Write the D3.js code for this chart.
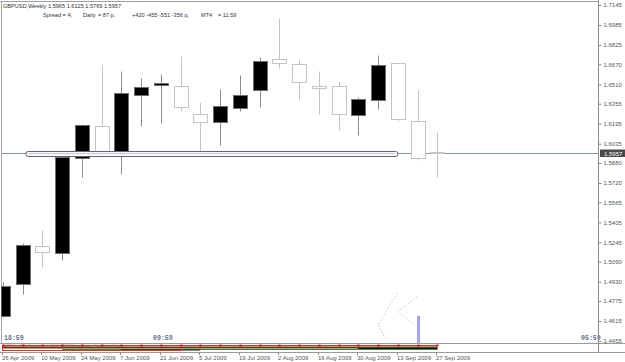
<!DOCTYPE html>
<html>
<head>
<meta charset="utf-8">
<script src="https://cdnjs.cloudflare.com/ajax/libs/d3/7.8.5/d3.min.js"></script>
<style>
  body { margin: 0; background: #fff; }
  svg { display: block; font-family: "Liberation Sans", Arial, sans-serif; }
</style>
</head>
<body>
<svg id="my_chart" width="625" height="362"></svg>
<script>
// GBPUSD weekly bars
var weeks = ["26 Apr 2009", "3 May 2009", "10 May 2009", "17 May 2009", "24 May 2009", "31 May 2009",
  "7 Jun 2009", "14 Jun 2009", "21 Jun 2009", "28 Jun 2009", "5 Jul 2009", "12 Jul 2009",
  "19 Jul 2009", "26 Jul 2009", "2 Aug 2009", "9 Aug 2009", "16 Aug 2009", "23 Aug 2009",
  "30 Aug 2009", "6 Sep 2009", "13 Sep 2009", "20 Sep 2009", "27 Sep 2009"];
var open  = [1.4657, 1.4913, 1.5217, 1.5161, 1.5921, 1.6177, 1.5953, 1.6425, 1.6505, 1.6497, 1.6273, 1.6209,
             1.6321, 1.6465, 1.6713, 1.6673, 1.6497, 1.6497, 1.6265, 1.6385, 1.6681, 1.6217, 1.5965];
var high  = [1.4929, 1.5241, 1.5345, 1.5937, 1.6193, 1.6665, 1.6617, 1.6561, 1.6593, 1.6737, 1.6369, 1.6473,
             1.6585, 1.6729, 1.7041, 1.6713, 1.6617, 1.6537, 1.6409, 1.6745, 1.6681, 1.6465, 1.6125];
var low   = [1.4650, 1.4833, 1.5049, 1.5105, 1.5769, 1.5929, 1.5793, 1.6177, 1.6201, 1.6297, 1.5977, 1.6025,
             1.6297, 1.6329, 1.6641, 1.6385, 1.6273, 1.6145, 1.6105, 1.6313, 1.6217, 1.5905, 1.5769];
var close = [1.4897, 1.5225, 1.5169, 1.5929, 1.6185, 1.5977, 1.6441, 1.6489, 1.6521, 1.6329, 1.6209, 1.6337,
             1.6425, 1.6697, 1.6681, 1.6529, 1.6481, 1.6273, 1.6393, 1.6665, 1.6233, 1.5921, 1.5957];

var priceTicks = [1.7145, 1.6985, 1.6825, 1.6670, 1.6510, 1.6355, 1.6195, 1.6035, 1.5880,
                  1.5720, 1.5565, 1.5405, 1.5245, 1.5090, 1.4930, 1.4775, 1.4615, 1.4455];
var bid = 1.5957;

// horizontal object (double line) : [from bar, to bar], [upper, lower] price
var channelBars = [1.18, 20];
var channelPrices = [1.5975, 1.5940];

// dotted zigzags near the bottom right : [bar, price]
var zigA = [[20, 1.4841], [19, 1.4585], [19.45, 1.4452]];
var zigB = [[21, 1.4809], [20, 1.4689], [20.85, 1.4585]];
// blue histogram bar
var blueBar = [21, 1.4657];

var sessions = [["18:59", 4], ["09:59", 153], ["05:59", 581]];

var svg = d3.select("#my_chart"),
  width = +svg.attr("width"),
  height = +svg.attr("height");

var right = 598.5, bottom = 343.5;

var x = d3.scaleLinear().domain([0, 22]).range([2.75, 437.25]);
var y = d3.scaleLinear().domain([1.4455, 1.7145]).range([341, 5]);
function cx(i) { return Math.round(x(i)) + 0.5; }
function py(p) { return Math.round(y(p)) + 0.5; }

svg.append("rect").attr("width", width).attr("height", height).attr("fill", "#fff");

svg.append("defs").append("clipPath").attr("id", "plot")
  .append("rect").attr("x", 1.5).attr("y", 1.5).attr("width", right - 1.5).attr("height", bottom - 1.5);

// frame
svg.append("line").attr("x1", 0).attr("x2", right).attr("y1", 1.5).attr("y2", 1.5).attr("stroke", "#a0a0a0");
svg.append("line").attr("x1", 1.5).attr("x2", 1.5).attr("y1", 1.5).attr("y2", bottom).attr("stroke", "#a8a8a8");

// header text
svg.append("text").attr("x", 3).attr("y", 8).attr("font-size", 5.6).attr("fill", "#333")
  .text("GBPUSD,Weekly  1.5965 1.6125 1.5769 1.5957");
var info = [["Spread = 4,", 43], ["Daily", 83], ["= 87 p,", 98], ["+420 -455 -551 -356 p,", 132], ["MT4", 201], ["= 11:59", 218]];
svg.append("g").selectAll("text").data(info).enter().append("text")
  .attr("x", function(d) { return d[1]; }).attr("y", 17)
  .attr("font-size", 5.6).attr("fill", "#333")
  .text(function(d) { return d[0]; });

var plot = svg.append("g").attr("clip-path", "url(#plot)");

// bid line
plot.append("line").attr("x1", 0).attr("x2", right).attr("y1", py(bid)).attr("y2", py(bid))
  .attr("stroke", "#8493ad");

// candles
var bars = d3.range(weeks.length);
plot.append("g").selectAll("line").data(bars).enter().append("line")
  .attr("x1", cx).attr("x2", cx)
  .attr("y1", function(i) { return py(high[i]); })
  .attr("y2", function(i) { return py(low[i]); })
  .attr("stroke", function(i) { return close[i] >= open[i] ? "#8c8c8c" : "#c4c4c4"; });

plot.append("g").selectAll("rect").data(bars).enter().append("rect")
  .attr("x", function(i) { return cx(i) - 7; })
  .attr("width", 14)
  .attr("y", function(i) { return py(Math.max(open[i], close[i])); })
  .attr("height", function(i) { return Math.max(0, py(Math.min(open[i], close[i])) - py(Math.max(open[i], close[i]))); })
  .attr("fill", function(i) { return close[i] >= open[i] ? "#000" : "#fff"; })
  .attr("stroke", function(i) { return close[i] >= open[i] ? "#6e6e6e" : "#c4c4c4"; });

// horizontal object
var chY1 = py(channelPrices[0]), chY2 = py(channelPrices[1]);
plot.append("rect")
  .attr("x", x(channelBars[0])).attr("width", x(channelBars[1]) - x(channelBars[0]))
  .attr("y", chY1).attr("height", chY2 - chY1)
  .attr("rx", 2)
  .attr("fill", "#f7f8fb").attr("stroke", "#666").attr("stroke-width", 1);
plot.append("line").attr("x1", x(channelBars[0]) + 3).attr("x2", x(channelBars[1]) - 3)
  .attr("y1", py(bid)).attr("y2", py(bid)).attr("stroke", "#c3cbdb");

// dotted zigzags
var zline = d3.line().x(function(d) { return x(d[0]); }).y(function(d) { return y(d[1]); });
plot.selectAll(".zig").data([zigA, zigB]).enter().append("path")
  .attr("class", "zig").attr("d", zline)
  .attr("fill", "none").attr("stroke", "#c8c8c8").attr("stroke-width", 1).attr("stroke-dasharray", "1.5,2");

// blue bar
plot.append("rect").attr("x", cx(blueBar[0]) - 1.5).attr("width", 3)
  .attr("y", y(blueBar[1])).attr("height", bottom - y(blueBar[1]))
  .attr("fill", "#a3a3fb");

// session times
svg.append("g").selectAll("text").data(sessions).enter().append("text")
  .attr("x", function(d) { return d[1]; }).attr("y", 339.5)
  .attr("font-family", "'Liberation Mono', monospace").attr("font-weight", "bold")
  .attr("font-size", 6.6).attr("fill", "#5d6f8c")
  .text(function(d) { return d[0]; });

// indicator strip under the chart
var strip = svg.append("g");
strip.append("line").attr("x1", 0).attr("x2", 625).attr("y1", bottom).attr("y2", bottom).attr("stroke", "#9a9a9a");
strip.append("line").attr("x1", 0).attr("x2", 625).attr("y1", 352.5).attr("y2", 352.5).attr("stroke", "#9a9a9a");
strip.append("text").attr("x", 3).attr("y", 347).attr("font-size", 4.2).attr("fill", "#999")
  .text("GBPC... Mini Tracker (c) 2001-2008 MetaQuotes Software Corp.");
strip.append("line").attr("x1", x(0)).attr("x2", cx(22)).attr("y1", 347.5).attr("y2", 347.5)
  .attr("stroke", "#6b3410").attr("stroke-width", 2);
strip.append("line").attr("x1", x(3)).attr("x2", cx(22)).attr("y1", 349.5).attr("y2", 349.5)
  .attr("stroke", "#2e8b2e").attr("stroke-width", 1.2);
strip.append("line").attr("x1", x(6)).attr("x2", x(10)).attr("y1", 350).attr("y2", 350)
  .attr("stroke", "#111");
strip.append("line").attr("x1", x(18)).attr("x2", cx(22)).attr("y1", 348.5).attr("y2", 348.5)
  .attr("stroke", "#111");
strip.append("rect").attr("x", 2.5).attr("y", 345.5).attr("width", x(9) - 2.5).attr("height", 5)
  .attr("fill", "none").attr("stroke", "#e03020");
strip.append("line").attr("x1", x(0)).attr("x2", cx(22)).attr("y1", 345.5).attr("y2", 345.5)
  .attr("stroke", "#e03020");
strip.append("g").selectAll("rect").data(bars).enter().append("rect")
  .attr("x", function(i) { return cx(i) - 1; }).attr("y", 344.5).attr("width", 2).attr("height", 2)
  .attr("fill", "#e00000");

// price axis
var yAxis = d3.axisRight(y).tickValues(priceTicks).tickSize(3).tickPadding(2)
  .tickFormat(d3.format(".4f"));
var ax = svg.append("g").attr("transform", "translate(" + right + ",0)").call(yAxis);
ax.select(".domain").attr("d", "M0,0V352").attr("stroke", "#8a8a8a");
ax.selectAll(".tick line").attr("stroke", "#8a8a8a");
ax.selectAll(".tick text").attr("font-size", 6).attr("fill", "#555").attr("font-family", "'Liberation Sans', Arial, sans-serif");

// bid label
svg.append("rect").attr("x", 600).attr("y", py(bid) - 4).attr("width", 25).attr("height", 7.5).attr("fill", "#4a4a4a");
svg.append("text").attr("x", 604).attr("y", py(bid) + 2).attr("font-size", 6).attr("fill", "#fff")
  .text(d3.format(".4f")(bid));

// date axis: every second week
var dateIdx = bars.filter(function(i) { return i % 2 === 0; });
var dates = svg.append("g");
dates.selectAll("line").data(dateIdx).enter().append("line")
  .attr("x1", function(i) { return cx(i) - 1; }).attr("x2", function(i) { return cx(i) - 1; })
  .attr("y1", 352.5).attr("y2", 355).attr("stroke", "#8a8a8a");
dates.selectAll("text").data(dateIdx).enter().append("text")
  .attr("x", function(i) { return Math.max(0, cx(i) - 1.5); }).attr("y", 360)
  .attr("font-size", 6).attr("fill", "#555")
  .text(function(i) { return weeks[i]; });
</script>
</body>
</html>
